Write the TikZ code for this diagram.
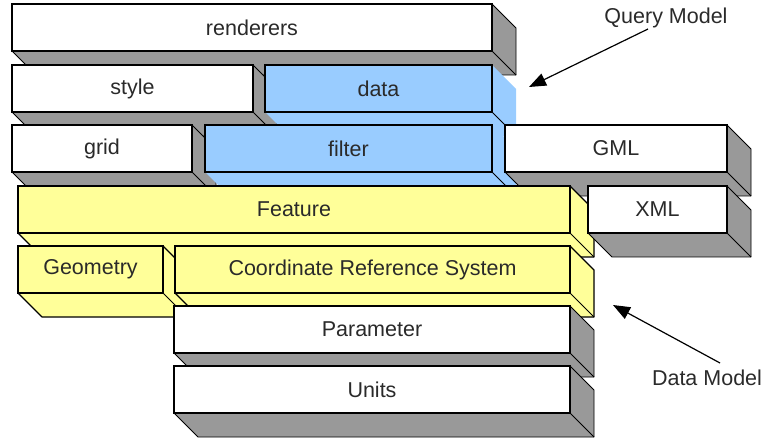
\documentclass[tikz,border=0pt]{standalone}
\usepackage{fontspec}
\setmainfont{Liberation Sans}
\usetikzlibrary{arrows.meta}
\definecolor{sidegray}{HTML}{999999}
\definecolor{boxyellow}{HTML}{FFFF99}
\definecolor{boxblue}{HTML}{99CCFF}
\definecolor{txt}{HTML}{2A2A2A}
\tikzset{
  front/.style={draw=black, line width=1.5pt, inner sep=0pt, outer sep=0pt, anchor=north west,
    text=txt, font=\fontsize{21.5}{25}\selectfont},
  whitebox/.style={front, fill=white},
  yellowbox/.style={front, fill=boxyellow},
  bluebox/.style={front, fill=boxblue},
  whiteside/.style={fill=sidegray, draw=black, line width=0.9pt, line join=round},
  yellowside/.style={fill=boxyellow, draw=black, line width=1.2pt, line join=round},
  blueside/.style={fill=boxblue, draw=none},
  edge3d/.style={draw=black, line width=0.9pt},
  callout/.style={draw=black, line width=1.2pt, -{Triangle[length=17pt,width=13pt]}},
  lbl/.style={text=txt, font=\fontsize{21.5}{25}\selectfont, inner sep=0pt}
}
\newcommand\slab[7]{%
  \path[#6side] (#2,#3) -- (#4,#3) -- ++(24,24) -- ++(0,#5-#3) -- (#2+24,#5+24) -- (#2,#5) -- cycle;
  \draw[edge3d] (#4,#5) -- ++(24,24);
  \node[#6box, minimum width={(#4-#2)*1pt}, minimum height={(#5-#3)*1pt}] (#1) at (#2,#3) {#7};
}
\begin{document}
\begin{tikzpicture}[x=1pt,y=-1pt]
\useasboundingbox (0,0) rectangle (764,441);
% row 1
\slab{renderers}{12}{4}{492}{51}{white}{renderers}
% row 2
\slab{style}{12}{65}{253}{112}{white}{style}
\slab{data}{265}{65}{492}{112}{blue}{data}
% row 3
\slab{grid}{12}{125}{192}{172}{white}{grid}
\slab{filter}{205}{125}{492}{172}{blue}{filter}
\slab{gml}{505}{125}{727}{172}{white}{GML}
% row 4
\slab{feature}{18}{186}{570}{233}{yellow}{Feature}
\slab{xml}{588}{186}{727}{233}{white}{XML}
% row 5
\slab{geometry}{18}{246}{163}{293}{yellow}{Geometry}
\slab{crs}{175}{246}{570}{293}{yellow}{Coordinate Reference System}
% row 6
\slab{parameter}{174}{306}{570}{353}{white}{Parameter}
% row 7
\slab{units}{174}{366}{570}{413}{white}{Units}
% callouts
\node[lbl] (querylbl) at (666,18) {Query Model};
\coordinate (qtail) at (648,29);
\coordinate (qtip) at (529,87);
\draw[callout] (qtail) -- (qtip);
\node[lbl] (datalbl) at (707,378) {Data Model};
\coordinate (dtail) at (720,363);
\coordinate (dtip) at (613,305);
\draw[callout] (dtail) -- (dtip);
\end{tikzpicture}
\end{document}
